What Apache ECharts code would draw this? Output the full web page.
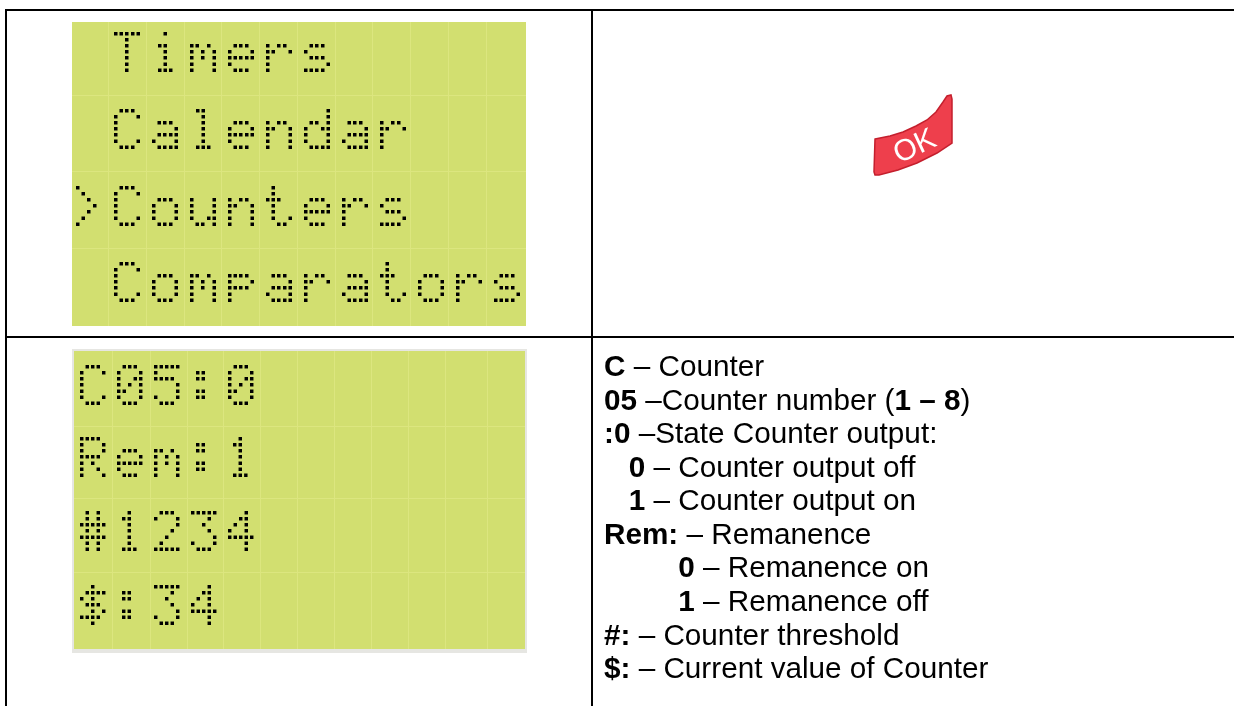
<!DOCTYPE html>
<html>
<head>
<meta charset="utf-8">
<style>
  html, body { margin: 0; padding: 0; background: #fff; }
  #chart { width: 1234px; height: 706px; }
</style>
<script src="https://cdn.jsdelivr.net/npm/echarts@6/dist/echarts.min.js"></script>
</head>
<body>
<div id="chart"></div>
<script>
// LCD screen contents
const menuRows = [' Timers', ' Calendar', '>Counters', ' Comparators'];
const stateRows = ['C05:0', 'Rem:1', '#1234', '$:34'];

// Explanation column, {b|..} marks the bold parts
const legendLines = [
  '{b|C} – Counter',
  '{b|05} –Counter number ({b|1 – 8})',
  '{b|:0} –State Counter output:',
  '   {b|0} – Counter output off',
  '   {b|1} – Counter output on',
  '{b|Rem:} – Remanence',
  '         {b|0} – Remanence on',
  '         {b|1} – Remanence off',
  '{b|#:} – Counter threshold',
  '{b|$:} – Current value of Counter'
];
const buttonLabel = 'OK';

// 5x7 character ROM of the display, used to build a real font below
const lcdGlyphs = {
  ' ': '00000 00000 00000 00000 00000 00000 00000',
  '#': '01010 01010 11111 01010 11111 01010 01010',
  '$': '00100 01111 10100 01110 00101 11110 00100',
  '0': '01110 10001 10011 10101 11001 10001 01110',
  '1': '00100 01100 00100 00100 00100 00100 01110',
  '2': '01110 10001 00001 00010 00100 01000 11111',
  '3': '11111 00010 00100 00010 00001 10001 01110',
  '4': '00010 00110 01010 10010 11111 00010 00010',
  '5': '11111 10000 11110 00001 00001 10001 01110',
  ':': '00000 01100 01100 00000 01100 01100 00000',
  '>': '10000 01000 00100 00010 00100 01000 10000',
  'C': '01110 10001 10000 10000 10000 10001 01110',
  'R': '11110 10001 10001 11110 10100 10010 10001',
  'T': '11111 00100 00100 00100 00100 00100 00100',
  'a': '00000 00000 01110 00001 01111 10001 01111',
  'd': '00001 00001 01101 10011 10001 10001 01111',
  'e': '00000 00000 01110 10001 11111 10000 01110',
  'i': '00100 00000 01100 00100 00100 00100 01110',
  'l': '01100 00100 00100 00100 00100 00100 01110',
  'm': '00000 00000 11010 10101 10101 10001 10001',
  'n': '00000 00000 10110 11001 10001 10001 10001',
  'o': '00000 00000 01110 10001 10001 10001 01110',
  'p': '00000 00000 11110 10001 11110 10000 10000',
  'r': '00000 00000 10110 11001 10000 10000 10000',
  's': '00000 00000 01110 10000 01110 00001 11110',
  't': '01000 01000 11100 01000 01000 01001 00110',
  'u': '00000 00000 10001 10001 10001 10011 01101'
};

// Minimal TrueType builder so the LCD rows stay real text
const DOT = 88, STEP_X = 140, STEP_Y = 155, LSB = 125, ADVANCE = 942, ASC = 1100, DESC = 200;
const u16 = (...v) => v.flatMap((n) => [(n >> 8) & 255, n & 255]);
const u32 = (...v) => v.flatMap((n) => [(n >>> 24) & 255, (n >> 16) & 255, (n >> 8) & 255, n & 255]);
const str = (s) => Array.from(s).map((c) => c.charCodeAt(0));

function glyphDots(bitmap) {
  const dots = [];
  bitmap.split(' ').forEach((row, r) => {
    Array.from(row).forEach((bit, c) => {
      if (bit === '1') dots.push([LSB + c * STEP_X, (6 - r) * STEP_Y]);
    });
  });
  return dots;
}

function glyphBytes(dots) {
  if (!dots.length) return [];
  const xs = dots.map((d) => d[0]);
  const ys = dots.map((d) => d[1]);
  let out = u16(dots.length, Math.min(...xs), Math.min(...ys), Math.max(...xs) + DOT, Math.max(...ys) + DOT);
  dots.forEach((d, i) => { out = out.concat(u16(i * 4 + 3)); });
  out = out.concat(u16(0));
  let px = 0, py = 0, dx = [], dy = [];
  dots.forEach(([x, y]) => {
    [[x, y], [x, y + DOT], [x + DOT, y + DOT], [x + DOT, y]].forEach(([a, b]) => {
      dx.push(a - px); dy.push(b - py); px = a; py = b;
    });
  });
  out = out.concat(new Array(dx.length).fill(1), u16(...dx), u16(...dy));
  while (out.length % 4) out.push(0);
  return out;
}

function buildLcdFont() {
  const chars = Object.keys(lcdGlyphs).sort((a, b) => a.charCodeAt(0) - b.charCodeAt(0));
  const n = chars.length + 1;
  let glyf = [], offsets = [0, 0], hmtx = u16(ADVANCE, 0);
  chars.forEach((c) => {
    const dots = glyphDots(lcdGlyphs[c]);
    glyf = glyf.concat(glyphBytes(dots));
    offsets.push(glyf.length);
    // lsb has to equal xMin or the rasterizer slides the glyph sideways
    hmtx = hmtx.concat(u16(ADVANCE, dots.length ? Math.min(...dots.map((d) => d[0])) : 0));
  });
  const codes = chars.map((c) => c.charCodeAt(0)).concat(0xffff);
  const seg = codes.length;
  const log2seg = Math.floor(Math.log2(seg));
  const searchRange = 2 * (1 << log2seg);
  const cmapSub = u16(4, 16 + seg * 8, 0, seg * 2, searchRange, log2seg, seg * 2 - searchRange)
    .concat(u16(...codes), u16(0), u16(...codes),
      u16(...codes.map((c, i) => (c === 0xffff ? 1 : (i + 1 - c)) & 0xffff)),
      u16(...codes.map(() => 0)));
  const familyName = Array.from('LCD Matrix').flatMap((c) => [0, c.charCodeAt(0)]);
  const tables = {
    'OS/2': u16(1, ADVANCE, 400, 5, 0, 500, 500, 0, 0, 500, 500, 0, 0, 50, 250, 0)
      .concat(new Array(10).fill(0), u32(0, 0, 0, 0), str('NONE'),
        u16(0x40, codes[0], codes[seg - 2], ASC, -DESC, 0, ASC, DESC), u32(1, 0)),
    'cmap': u16(0, 1, 3, 1).concat(u32(12), cmapSub),
    'glyf': glyf,
    'head': u32(0x00010000, 0x00010000, 0, 0x5f0f3cf5).concat(u16(0, 1000), u32(0, 0, 0, 0),
      u16(0, 0, 1000, ASC, 0, 8, 2, 1, 0)),
    'hhea': u32(0x00010000).concat(u16(ASC, (-DESC) & 0xffff, 0, ADVANCE, 0, 0, 1000, 1, 0, 0, 0, 0, 0, 0, 0, n)),
    'hmtx': hmtx,
    'loca': u32(...offsets),
    'maxp': u32(0x00010000).concat(u16(n, 35 * 4, 35, 0, 0, 2, 0, 0, 0, 0, 0, 0, 0, 0)),
    'name': u16(0, 1, 18, 3, 1, 0x409, 1, familyName.length, 0).concat(familyName),
    'post': u32(0x00030000, 0, 0, 1, 0, 0, 0, 0)
  };
  const tags = Object.keys(tables).sort();
  let offset = 12 + tags.length * 16;
  let dir = u32(0x00010000).concat(u16(tags.length, 128, 3, tags.length * 16 - 128));
  let body = [];
  tags.forEach((tag) => {
    const data = tables[tag];
    dir = dir.concat(str(tag), u32(0, offset, data.length));
    body = body.concat(data);
    while (body.length % 4) body.push(0);
    offset = 12 + tags.length * 16 + body.length;
  });
  return new Uint8Array(dir.concat(body)).buffer;
}

const INK = '#000000';
const LINE = '#000000';
const SCREEN = '#d2df70';
const SCREEN_GRID = '#dce67f';
const TEXT_FONT = '"Liberation Sans", Arial, sans-serif';

function rect(x, y, width, height, fill) {
  return { type: 'rect', silent: true, shape: { x, y, width, height }, style: { fill } };
}

function lcdPanel(rows, opt) {
  const els = [];
  opt.vLines.forEach((x) => els.push(rect(x, opt.top, 1, opt.height, SCREEN_GRID)));
  opt.hLines.forEach((y) => els.push(rect(opt.left, y, opt.width, 1, SCREEN_GRID)));
  rows.forEach((row, i) => {
    els.push({
      type: 'text',
      silent: true,
      style: {
        text: row,
        x: opt.textX,
        y: opt.rowBottoms[i] - opt.fontSize * 0.37,
        fontFamily: '"LCD Matrix", monospace',
        fontSize: opt.fontSize,
        fill: INK,
        align: 'left',
        verticalAlign: 'middle'
      }
    });
  });
  return els;
}

function draw() {
  const chart = echarts.init(document.getElementById('chart'));
  const elements = [];

  // Screens
  elements.push(rect(72, 22, 454, 304, SCREEN));
  elements.push(rect(72, 349, 455, 304, '#e6e6e2'));
  elements.push(rect(74, 351, 451, 298, SCREEN));

  elements.push(...lcdPanel(menuRows, {
    left: 72, top: 22, width: 454, height: 304,
    vLines: [108, 146, 184, 221, 259, 297, 335, 372, 410, 448, 486],
    hLines: [95, 171, 248],
    textX: 70.5, fontSize: 40,
    rowBottoms: [73.3, 150, 226.7, 302.7]
  }));
  elements.push(...lcdPanel(stateRows, {
    left: 74, top: 351, width: 451, height: 298,
    vLines: [112, 150, 187, 223, 260, 297, 334, 371, 408, 445, 487],
    hLines: [426, 498, 572],
    textX: 74.5, fontSize: 39.3,
    rowBottoms: [406, 478, 552, 625.7]
  }));

  // Table rules
  elements.push(rect(5, 9, 1229, 2, LINE));
  elements.push(rect(5, 336, 1229, 2, LINE));
  elements.push(rect(5, 9, 2, 697, LINE));
  elements.push(rect(591, 9, 2, 697, LINE));

  // OK key
  elements.push({
    type: 'polygon',
    silent: true,
    shape: {
      points: [[875, 139], [890, 136], [903, 132], [916, 126], [927, 120], [936, 112], [943, 102], [947, 96], [951, 95], [952, 99],
        [952, 143], [937, 153], [917, 163], [898, 170], [879, 175], [875, 175], [874, 172]]
    },
    style: { fill: '#ee3f4c', stroke: '#c41f2d', lineWidth: 1.5 }
  });
  elements.push({
    type: 'text',
    silent: true,
    x: 915,
    y: 147,
    rotation: 0.44,
    style: {
      text: buttonLabel,
      x: 0,
      y: 0,
      fontFamily: TEXT_FONT,
      fontSize: 30,
      fill: '#fff',
      align: 'center',
      verticalAlign: 'middle'
    }
  });

  // Explanation lines
  legendLines.forEach((line, i) => {
    elements.push({
      type: 'text',
      silent: true,
      style: {
        text: line,
        x: 604,
        y: 368 + i * 33.55,
        fontFamily: TEXT_FONT,
        fontSize: 29.7,
        fill: '#000',
        align: 'left',
        verticalAlign: 'middle',
        rich: { b: { fontFamily: TEXT_FONT, fontSize: 29.7, fontWeight: 'bold', fill: '#000' } }
      }
    });
  });

  chart.setOption({
    animation: false,
    backgroundColor: '#fff',
    graphic: { elements }
  });
}

const lcdFont = new FontFace('LCD Matrix', buildLcdFont());
lcdFont.load().then((f) => {
  document.fonts.add(f);
  draw();
}).catch((err) => {
  console.error(err);
  draw();
});
</script>
</body>
</html>
